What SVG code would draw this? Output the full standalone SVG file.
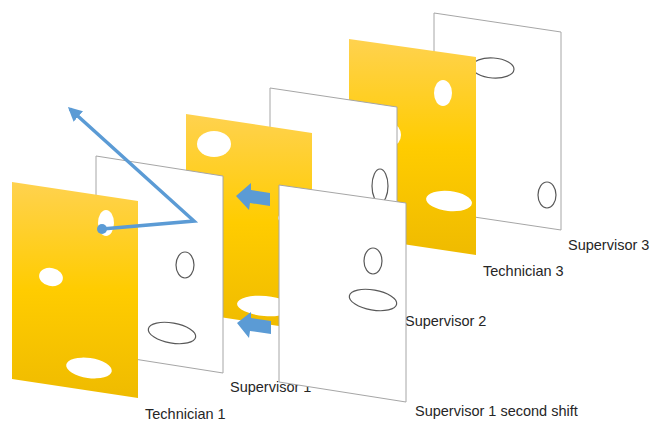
<svg xmlns="http://www.w3.org/2000/svg" width="652" height="421" viewBox="0 0 652 421">
<defs>
<linearGradient id="gold" x1="0" y1="0" x2="0" y2="1">
<stop offset="0" stop-color="#FFD24F"/>
<stop offset="0.5" stop-color="#FFCC00"/>
<stop offset="1" stop-color="#EFBB00"/>
</linearGradient>
<marker id="head" viewBox="0 0 10 10" refX="8" refY="5" markerWidth="4" markerHeight="4" orient="auto" markerUnits="strokeWidth">
<path d="M0,0 L10,5 L0,10 Z" fill="#5B9BD5"/>
</marker>
<style>
.white{fill:#FFFFFF;stroke:#A6A6A6;stroke-width:1}
.gold{fill:url(#gold)}
.hole{fill:#FFFFFF}
.ring{fill:none;stroke:#595959;stroke-width:1.2}
.label{font-family:"Liberation Sans",Arial,sans-serif;font-size:14.5px;fill:#262626}
.blue{fill:#5B9BD5}
.line{fill:none;stroke:#5B9BD5;stroke-width:3.5;stroke-linejoin:miter}
</style>
</defs>
<rect width="652" height="421" fill="#FFFFFF"/>

<g id="supervisor3">
<polygon class="white" points="434,13 561,32 561,230 434,211"/>
<ellipse class="ring" cx="493" cy="68" rx="21" ry="10" transform="rotate(4 493 68)"/>
<ellipse class="ring" cx="547" cy="195" rx="9" ry="13"/>
<text class="label" x="568" y="250">Supervisor 3</text>
</g>

<g id="technician3">
<polygon class="gold" points="349,39 476,57 476,255 349,236"/>
<ellipse class="hole" cx="443" cy="93" rx="9" ry="13"/>
<ellipse class="hole" cx="392" cy="135" rx="9" ry="11"/>
<ellipse class="hole" cx="449" cy="201" rx="23" ry="10" transform="rotate(6 449 201)"/>
<text class="label" x="483" y="276">Technician 3</text>
</g>

<g id="supervisor2">
<polygon class="white" points="270,88 397,107 397,304 270,285"/>
<ellipse class="ring" cx="380" cy="186" rx="8" ry="17"/>
<text class="label" x="405" y="326">Supervisor 2</text>
</g>

<g id="technician2">
<polygon class="gold" points="186,114 312,133 312,331 186,312"/>
<ellipse class="hole" cx="214" cy="144" rx="17" ry="13"/>
<ellipse class="hole" cx="288" cy="218" rx="10" ry="6"/>
<ellipse class="hole" cx="265" cy="306" rx="28" ry="10" transform="rotate(5 265 306)"/>
</g>

<g id="supervisor1">
<polygon class="white" points="96,156 223,176 223,373 96,353"/>
<ellipse class="ring" cx="185" cy="265" rx="9" ry="13"/>
<ellipse class="ring" cx="172" cy="333" rx="24" ry="10" transform="rotate(10 172 333)"/>
<text class="label" x="230" y="392">Supervisor 1</text>
</g>

<g id="technician1">
<polygon class="gold" points="12,182 138,201 138,398 12,379"/>
<ellipse class="hole" cx="106" cy="223" rx="8" ry="13"/>
<ellipse class="hole" cx="51" cy="277" rx="12" ry="9" transform="rotate(12 51 277)"/>
<ellipse class="hole" cx="89" cy="368" rx="23" ry="10" transform="rotate(8 89 368)"/>
<text class="label" x="145" y="419">Technician 1</text>
</g>

<g id="connectors">
<polyline class="line" points="102,229 194,221 70,109" marker-end="url(#head)"/>
<circle class="blue" cx="102" cy="229" r="5"/>
<polygon class="blue" points="236,196 251,183 251,190 270,193 270,206 250,203 249,210"/>
<polygon class="blue" points="237,323 251,312 251,318 271,321 271,334 250,331 249,338"/>
</g>

<g id="supervisor1-second-shift">
<polygon class="white" points="279,185 406,203 406,402 279,382"/>
<ellipse class="ring" cx="373" cy="261" rx="9" ry="13"/>
<ellipse class="ring" cx="373" cy="300" rx="24" ry="10" transform="rotate(10 373 300)"/>
<text class="label" x="415" y="416">Supervisor 1 second shift</text>
</g>
</svg>
